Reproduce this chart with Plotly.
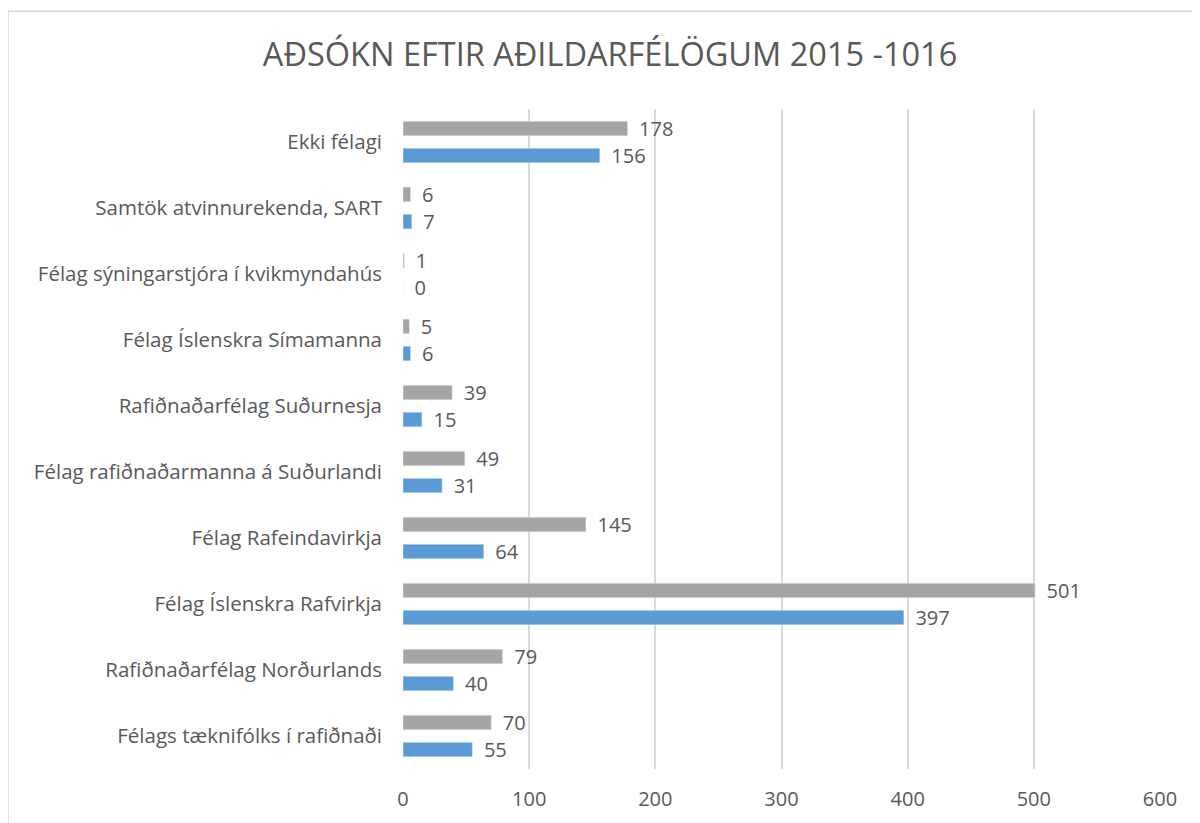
import plotly.graph_objects as go

# Data, listed bottom-to-top as Excel draws them
CATEGORIES = [
    "Félags tæknifólks í rafiðnaði",
    "Rafiðnaðarfélag Norðurlands",
    "Félag Íslenskra Rafvirkja",
    "Félag Rafeindavirkja",
    "Félag rafiðnaðarmanna á Suðurlandi",
    "Rafiðnaðarfélag Suðurnesja",
    "Félag Íslenskra Símamanna",
    "Félag sýningarstjóra í kvikmyndahús",
    "Samtök atvinnurekenda, SART",
    "Ekki félagi",
]
SERIES_BLUE = [55, 40, 397, 64, 31, 15, 6, 0, 7, 156]
SERIES_GRAY = [70, 79, 501, 145, 49, 39, 5, 1, 6, 178]
X_TICKS = [0, 100, 200, 300, 400, 500, 600]

TITLE = "AÐSÓKN EFTIR AÐILDARFÉLÖGUM 2015 -1016"

BLUE = "#5B9BD5"
GRAY = "#A5A5A5"
TEXT = "#595959"
GRID = "#D9D9D9"
FONT = "Open Sans, Noto Sans, sans-serif"

fig = go.Figure()
for name, vals, color in [("2015", SERIES_BLUE, BLUE), ("2016", SERIES_GRAY, GRAY)]:
    fig.add_trace(
        go.Bar(
            y=CATEGORIES,
            x=vals,
            name=name,
            orientation="h",
            marker=dict(color=color),
            texttemplate="\u00a0\u2009%{x}",
            textposition="outside",
            constraintext="none",
            textfont=dict(family=FONT, size=20, color=TEXT),
            cliponaxis=False,
        )
    )

# the page body adds an 8px margin, so everything is placed 8px up/left
fig.update_layout(
    title=dict(
        text=TITLE,
        font=dict(family=FONT, size=32.5, color=TEXT),
        x=0.5017,
        xanchor="center",
        y=0.943,
        yanchor="middle",
    ),
    barmode="group",
    bargap=0.18,
    bargroupgap=0.46,
    showlegend=False,
    font=dict(family=FONT, color=TEXT),
    plot_bgcolor="white",
    paper_bgcolor="white",
    width=1200,
    height=823,
    margin=dict(l=395, r=48, t=101, b=62),
    shapes=[
        dict(
            type="rect",
            xref="paper",
            yref="paper",
            x0=-0.5218,
            x1=1.2,
            y0=-0.2,
            y1=1.148,
            line=dict(color=GRID, width=1.5),
            layer="below",
        )
    ],
)

fig.update_xaxes(
    range=[0, 600],
    tickvals=X_TICKS,
    showgrid=True,
    gridcolor=GRID,
    gridwidth=1.5,
    zeroline=False,
    showline=False,
    ticks="",
    automargin=False,
    ticklabelstandoff=16,
    tickfont=dict(family=FONT, size=20, color=TEXT),
)
fig.update_yaxes(
    showgrid=False,
    showline=False,
    ticks="",
    automargin=False,
    ticklabelstandoff=20,
    tickfont=dict(family=FONT, size=20.5, color=TEXT),
)

fig.write_html("out.html")
